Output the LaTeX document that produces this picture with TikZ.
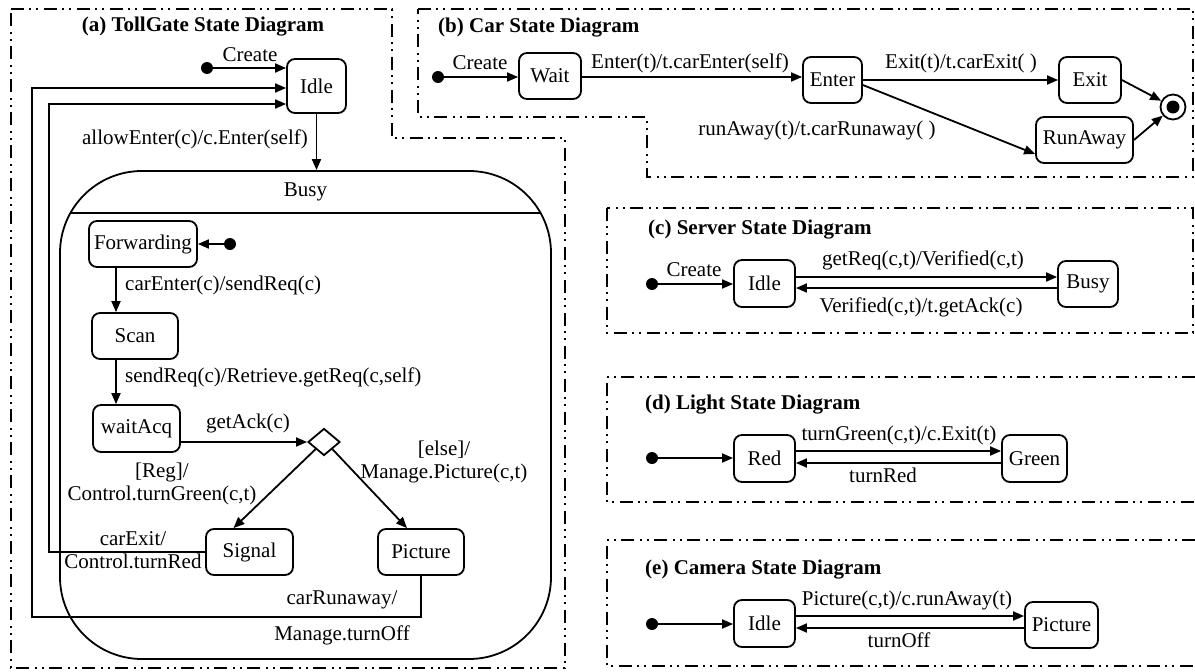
\documentclass[tikz,border=0pt]{standalone}
\usepackage{fontspec}
\setmainfont{Liberation Serif}
\usetikzlibrary{arrows.meta,shapes.geometric,calc}
\begin{document}
\begin{tikzpicture}[x=1pt,y=-1pt,
  every node/.style={font=\fontsize{21}{23}\selectfont, inner sep=0pt},
  st/.style={draw, line width=1.8pt, rounded corners=8pt, minimum height=46pt},
  arr/.style={line width=1.8pt, -{Triangle[length=11pt,width=9pt]}},
  ln/.style={line width=1.8pt},
  initdot/.style={circle, fill, minimum size=12pt, inner sep=0pt},
  frame/.style={line width=1.6pt, dash pattern=on 13pt off 5pt on 2pt off 5pt on 2pt off 6pt},
  ttl/.style={font=\fontsize{21}{23}\selectfont\bfseries},
]
\useasboundingbox (0,0) rectangle (1195,672);

% ---------------- (a) TollGate ----------------
\draw[frame] (11,9) -- (392,9) -- (392,138) -- (565,138) -- (565,668) -- (11,668) -- cycle;
\node[ttl] (ta) at (203,27) {(a) TollGate State Diagram};

\node[initdot] (a0) at (207,68) {};
\node[st, minimum width=59pt, minimum height=54pt] (idleA) at (316.5,86) {Idle};
\draw[arr] (a0) -- (a0 -| idleA.west);
\node (lcreateA) at (250,55) {Create};

\node[draw, ln, rounded corners=82pt, minimum width=491pt, minimum height=488pt] (busy) at (305.5,415) {};
\draw[arr] (idleA.south) -- (idleA.south |- busy.north);
\node[anchor=east] (lae) at (308,139) {allowEnter(c)/c.Enter(self)};
\node (busyl) at (305.5,192) {Busy};
\coordinate (sepL) at (70.4,213);
\coordinate (sepR) at (540.6,213);
\draw[ln] (sepL) -- (sepR);

\node[st, minimum width=108pt] (fwd) at (143,244) {Forwarding};
\node[initdot] (a1) at (230,244) {};
\draw[arr] (a1) -- (fwd.east);
\coordinate (vx) at (116,0);
\node[st, minimum width=86pt] (scan) at (135,336) {Scan};
\draw[arr] (fwd.south -| vx) -- (scan.north -| vx);
\node[anchor=west] (l1) at (125,285) {carEnter(c)/sendReq(c)};
\node[st, minimum width=87pt, minimum height=47pt] (wacq) at (136.5,428.5) {waitAcq};
\draw[arr] (scan.south -| vx) -- (wacq.north -| vx);
\node[anchor=west] (l2) at (125,377) {sendReq(c)/Retrieve.getReq(c,self)};
\node[diamond, draw, ln, minimum width=32pt, minimum height=27pt] (dia) at (324,442) {};
\draw[arr] (wacq.east |- dia.west) -- (dia.west);
\node (l3) at (248,423) {getAck(c)};
\node[st, minimum width=87pt] (sig) at (249.5,552) {Signal};
\node[st, minimum width=86pt] (picA) at (421,552) {Picture};
\draw[arr] (dia.south west) -- ($(sig.north)+(-16,0)$);
\draw[arr] (dia.south east) -- ($(picA.north)+(-14,0)$);
\node[align=center] (l4) at (162,483.5) {[Reg]/\\Control.turnGreen(c,t)};
\node[align=center] (l5) at (444,462) {[else]/\\Manage.Picture(c,t)};
\node[align=center] (l6) at (133,550.5) {carExit/\\Control.turnRed};

\coordinate (r1) at (49,104);
\draw[arr] (sig.west) -| (r1) -- (r1 -| idleA.west);
\coordinate (r2) at (32,617);
\coordinate (r3) at (32,88);
\draw[arr] (picA.south) |- (r2) -- (r3) -- (r3 -| idleA.west);
\node (l7) at (342,600) {carRunaway/};
\node (l8) at (342,635) {Manage.turnOff};

% ---------------- (b) Car ----------------
\draw[frame] (418,9) -- (1193,9) -- (1193,177) -- (647,177) -- (647,117) -- (418,117) -- cycle;
\node[ttl, anchor=west] (tb) at (438,28) {(b) Car State Diagram};
\node[initdot] (b0) at (438,77) {};
\node[st, minimum width=62pt] (wait) at (550,76) {Wait};
\draw[arr] (b0) -- (b0 -| wait.west);
\node (lb1) at (480,63) {Create};
\node[st, minimum width=59pt] (enter) at (832.5,80) {Enter};
\draw[arr] (wait.east |- b0) -- (b0 -| enter.west);
\node (lb2) at (690,63) {Enter(t)/t.carEnter(self)};
\node[st, minimum width=62pt] (exitB) at (1090,80) {Exit};
\draw[arr] (enter.east) -- (exitB.west);
\node (lb3) at (961,63) {Exit(t)/t.carExit( )};
\node[st, minimum width=97pt] (run) at (1084.5,140) {RunAway};
\draw[arr] ($(enter.east)+(0,5)$) -- ($(run.west)+(0,14)$);
\node (lb4) at (817,130) {runAway(t)/t.carRunaway( )};
\node[circle, draw, ln, minimum size=25pt, fill=white] (fin) at (1173,107) {};
\fill (fin.center) circle (6.5pt);
\draw[arr] (exitB.east) -- (fin);
\draw[arr] (run.east) -- (fin);

% ---------------- (c) Server ----------------
\draw[frame] (607,208) rectangle (1193,333);
\node[ttl, anchor=west] (tc) at (648,230) {(c) Server State Diagram};
\node[initdot] (c0) at (652,284) {};
\node[st, minimum width=61pt, minimum height=47pt] (idleC) at (764.5,283.5) {Idle};
\draw[arr] (c0) -- (c0 -| idleC.west);
\node (lc1) at (694,270) {Create};
\node[st, minimum width=60pt] (busyC) at (1088,284) {Busy};
\coordinate (cy1) at (0,277);
\coordinate (cy2) at (0,288);
\draw[arr] (idleC.east |- cy1) -- (busyC.west |- cy1);
\draw[arr] (busyC.west |- cy2) -- (idleC.east |- cy2);
\node (lc2) at (923,260) {getReq(c,t)/Verified(c,t)};
\node (lc3) at (921,307) {Verified(c,t)/t.getAck(c)};

% ---------------- (d) Light ----------------
\draw[frame] (1195,377) -- (607,377) -- (607,502) -- (1195,502);
\node[ttl, anchor=west] (td) at (645,405) {(d) Light State Diagram};
\node[initdot] (d0) at (652,458) {};
\node[st, minimum width=61pt, minimum height=47pt] (red) at (764.5,458.5) {Red};
\draw[arr] (d0) -- (d0 -| red.west);
\node[st, minimum width=65pt, minimum height=47pt] (green) at (1034.5,458.5) {Green};
\coordinate (dy1) at (0,451);
\coordinate (dy2) at (0,463);
\draw[arr] (red.east |- dy1) -- (green.west |- dy1);
\draw[arr] (green.west |- dy2) -- (red.east |- dy2);
\node (ld1) at (899,435) {turnGreen(c,t)/c.Exit(t)};
\node (ld2) at (883,475) {turnRed};

% ---------------- (e) Camera ----------------
\draw[frame] (1195,540) -- (607,540) -- (607,666) -- (1195,666);
\node[ttl, anchor=west] (te) at (645,570) {(e) Camera State Diagram};
\node[initdot] (e0) at (652,624) {};
\node[st, minimum width=61pt, minimum height=47pt] (idleE) at (764.5,623.5) {Idle};
\draw[arr] (e0) -- (e0 -| idleE.west);
\node[st, minimum width=73pt] (picE) at (1061.5,625) {Picture};
\coordinate (ey1) at (0,616);
\coordinate (ey2) at (0,628);
\draw[arr] (idleE.east |- ey1) -- (picE.west |- ey1);
\draw[arr] (picE.west |- ey2) -- (idleE.east |- ey2);
\node (le1) at (907,600) {Picture(c,t)/c.runAway(t)};
\node (le2) at (899,640) {turnOff};
\end{tikzpicture}
\end{document}
